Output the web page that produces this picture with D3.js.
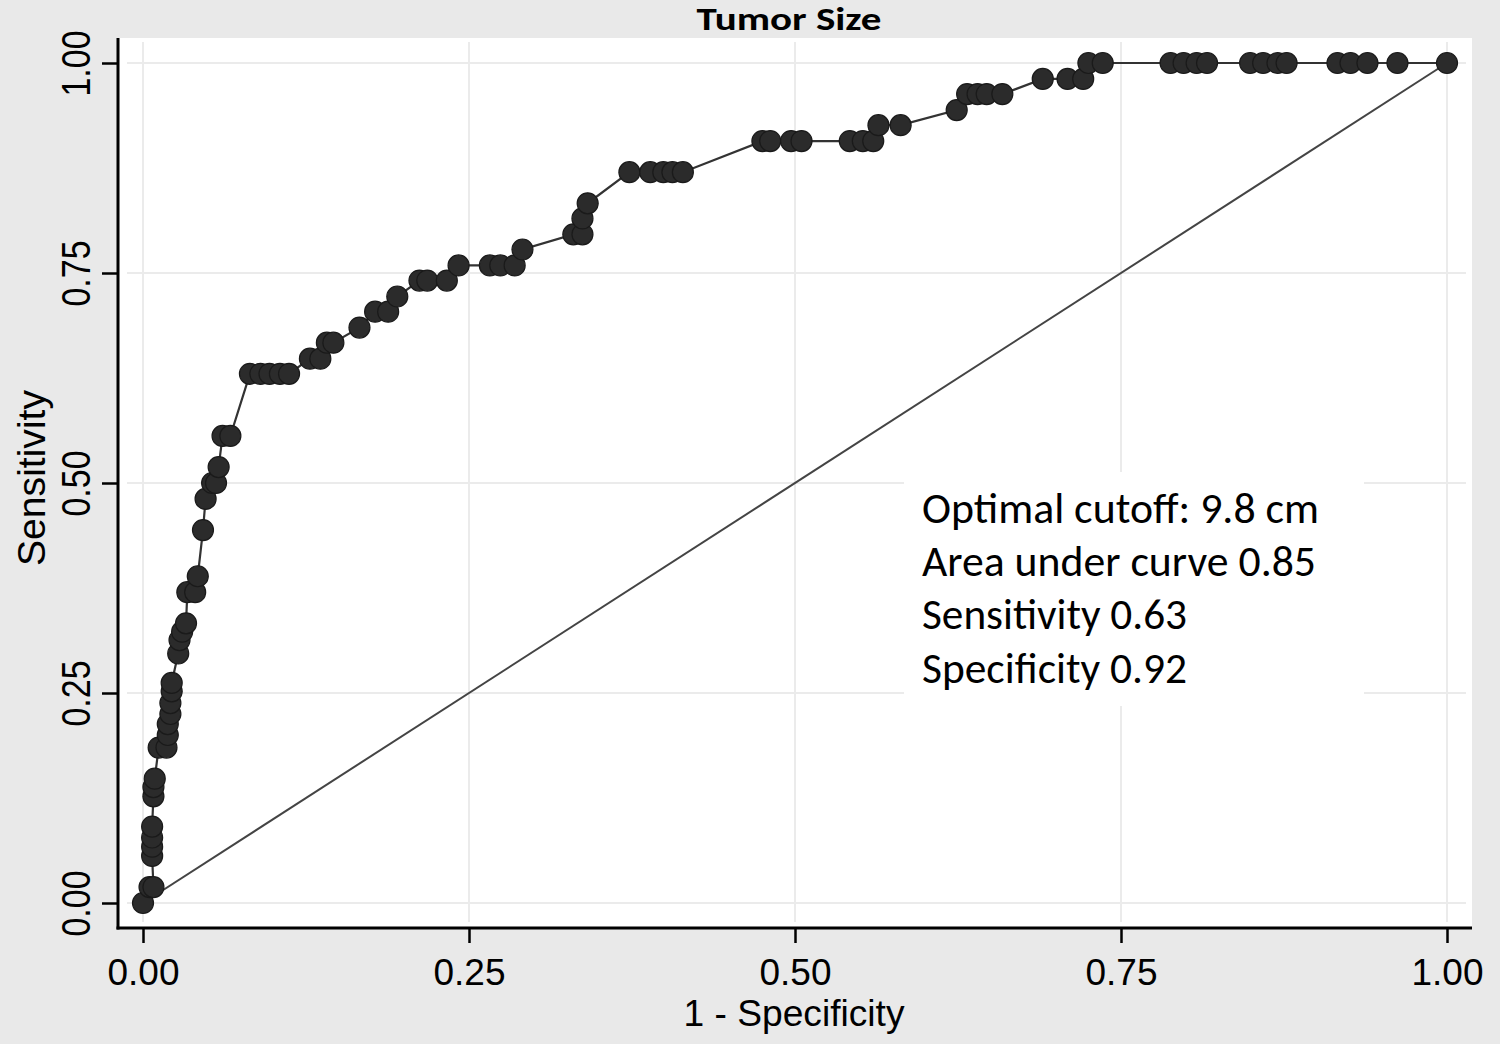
<!DOCTYPE html>
<html>
<head>
<meta charset="utf-8">
<script src="https://cdn.jsdelivr.net/npm/d3@7"></script>
<style>
  html, body { margin: 0; padding: 0; background: #e9e9e9; }
  svg { display: block; }
</style>
</head>
<body>
<svg id="chart" width="1500" height="1044"></svg>
<script>
// ---- data ----
const chartTitle = "Tumor Size";
const xAxisLabel = "1 - Specificity";
const yAxisLabel = "Sensitivity";
const tickValues = [0, 0.25, 0.5, 0.75, 1];
const fpr = [0,0.005,0.008,0.007,0.007,0.007,0.007,0.008,0.008,0.009,0.012,0.018,0.019,0.019,0.021,0.021,0.022,0.022,0.027,0.028,0.030,0.033,0.034,0.040,0.042,0.046,0.048,0.053,0.056,0.058,0.061,0.067,0.082,0.090,0.097,0.105,0.112,0.128,0.136,0.141,0.146,0.166,0.178,0.188,0.195,0.212,0.218,0.233,0.242,0.266,0.274,0.285,0.291,0.330,0.337,0.337,0.341,0.373,0.389,0.399,0.406,0.414,0.475,0.481,0.497,0.505,0.542,0.552,0.560,0.564,0.581,0.624,0.632,0.640,0.647,0.659,0.690,0.709,0.721,0.725,0.736,0.788,0.798,0.808,0.816,0.849,0.859,0.870,0.877,0.916,0.926,0.939,0.962,1];
const sensitivity = [0,0.019,0.019,0.056,0.067,0.078,0.091,0.127,0.138,0.148,0.185,0.185,0.200,0.213,0.225,0.238,0.252,0.262,0.297,0.313,0.323,0.333,0.370,0.370,0.389,0.444,0.481,0.500,0.500,0.519,0.556,0.556,0.630,0.630,0.630,0.630,0.630,0.648,0.648,0.667,0.667,0.685,0.704,0.704,0.722,0.741,0.741,0.741,0.759,0.759,0.759,0.759,0.778,0.796,0.796,0.815,0.833,0.870,0.870,0.870,0.870,0.870,0.907,0.907,0.907,0.907,0.907,0.907,0.907,0.926,0.926,0.944,0.963,0.963,0.963,0.963,0.981,0.981,0.981,1,1,1,1,1,1,1,1,1,1,1,1,1,1,1];
const referenceLine = [[0,0],[1,1]];
const annotationLines = ["Optimal cutoff: 9.8 cm", "Area under curve 0.85", "Sensitivity 0.63", "Specificity 0.92"];
const annotationWidths = [397, 394, 265, 265];

// ---- layout ----
const svg = d3.select("#chart");
const W = 1500, H = 1044;
const plot = {left: 118, top: 38, right: 1472, bottom: 928};
const x = d3.scaleLinear().domain([0, 1]).range([143, 1447]);
const y = d3.scaleLinear().domain([0, 1]).range([903, 63]);

svg.append("rect").attr("width", W).attr("height", H).attr("fill", "#e9e9e9");
svg.append("rect")
  .attr("x", plot.left).attr("y", plot.top)
  .attr("width", plot.right - plot.left).attr("height", plot.bottom - plot.top)
  .attr("fill", "#ffffff");

// grid
const grid = svg.append("g");
grid.selectAll(".hg").data(tickValues).join("line")
  .attr("x1", plot.left + 9).attr("x2", plot.right - 6)
  .attr("y1", d => y(d)).attr("y2", d => y(d))
  .attr("stroke", "#ebebeb").attr("stroke-width", 2);
grid.selectAll(".vg").data(tickValues).join("line")
  .attr("y1", plot.top + 4).attr("y2", plot.bottom - 6)
  .attr("x1", d => x(d)).attr("x2", d => x(d))
  .attr("stroke", "#ebebeb").attr("stroke-width", 2);

// reference diagonal
const line = d3.line().x(d => x(d[0])).y(d => y(d[1]));
svg.append("path").datum(referenceLine)
  .attr("d", line).attr("fill", "none")
  .attr("stroke", "#444").attr("stroke-width", 2);

// annotation box (hides grid)
svg.append("rect")
  .attr("x", 904).attr("y", 472).attr("width", 460).attr("height", 234)
  .attr("fill", "#ffffff");

// ROC curve
const pts = fpr.map((f, i) => [f, sensitivity[i]]);
svg.append("path").datum(pts)
  .attr("d", line).attr("fill", "none")
  .attr("stroke", "#333").attr("stroke-width", 2.2);
svg.append("g").selectAll("circle").data(pts).join("circle")
  .attr("cx", d => x(d[0])).attr("cy", d => y(d[1]))
  .attr("r", 10.5)
  .attr("fill", "#2b2b2b").attr("stroke", "#1a1a1a").attr("stroke-width", 1.2);

// axes
const fmt = d3.format(".2f");
const gx = svg.append("g").attr("transform", `translate(0,${plot.bottom})`)
  .call(d3.axisBottom(x).tickValues(tickValues).tickFormat(fmt).tickSize(15).tickSizeOuter(0));
gx.select(".domain").remove();
gx.selectAll(".tick line").attr("stroke", "#000").attr("stroke-width", 2.5);
gx.selectAll(".tick text")
  .attr("y", 57).attr("dy", 0)
  .attr("fill", "#000")
  .attr("textLength", 72).attr("lengthAdjust", "spacingAndGlyphs")
  .style("font-family", "'Liberation Sans', Arial, sans-serif")
  .style("font-size", "37px");

const gy = svg.append("g").attr("transform", `translate(${plot.left},0)`)
  .call(d3.axisLeft(y).tickValues(tickValues).tickFormat(fmt).tickSize(16).tickSizeOuter(0));
gy.select(".domain").remove();
gy.selectAll(".tick line").attr("stroke", "#000").attr("stroke-width", 2.5);
gy.selectAll(".tick text")
  .attr("x", 0).attr("y", -28).attr("dy", 0)
  .attr("transform", "rotate(-90)")
  .attr("text-anchor", "middle")
  .attr("fill", "#000")
  .attr("textLength", 66).attr("lengthAdjust", "spacingAndGlyphs")
  .style("font-family", "'Liberation Sans', Arial, sans-serif")
  .style("font-size", "40px");

// axis lines
svg.append("line").attr("x1", plot.left).attr("x2", plot.left)
  .attr("y1", plot.top).attr("y2", plot.bottom + 1.5)
  .attr("stroke", "#000").attr("stroke-width", 3);
svg.append("line").attr("x1", plot.left - 1.5).attr("x2", plot.right)
  .attr("y1", plot.bottom).attr("y2", plot.bottom)
  .attr("stroke", "#000").attr("stroke-width", 3);

// axis titles
svg.append("text").text(xAxisLabel)
  .attr("x", 794).attr("y", 1026).attr("text-anchor", "middle")
  .attr("fill", "#000")
  .attr("textLength", 221).attr("lengthAdjust", "spacingAndGlyphs")
  .style("font-family", "'Liberation Sans', Arial, sans-serif")
  .style("font-size", "36px");
svg.append("text").text(yAxisLabel)
  .attr("transform", "translate(45,478) rotate(-90)")
  .attr("text-anchor", "middle")
  .attr("fill", "#000")
  .attr("textLength", 176).attr("lengthAdjust", "spacingAndGlyphs")
  .style("font-family", "'Liberation Sans', Arial, sans-serif")
  .style("font-size", "38px");

// title
svg.append("text").text(chartTitle)
  .attr("x", 789).attr("y", 30).attr("text-anchor", "middle")
  .attr("fill", "#000").attr("font-weight", "bold")
  .attr("textLength", 185).attr("lengthAdjust", "spacingAndGlyphs")
  .style("font-family", "Carlito, Lato, 'Open Sans', sans-serif")
  .style("font-size", "32px");

// annotation text
svg.append("g").selectAll("text").data(annotationLines).join("text")
  .text(d => d)
  .attr("x", 922)
  .attr("y", (d, i) => 523 + i * 53.2)
  .attr("fill", "#000")
  .attr("textLength", (d, i) => annotationWidths[i])
  .attr("lengthAdjust", "spacingAndGlyphs")
  .style("font-family", "Carlito, Lato, 'Open Sans', sans-serif")
  .style("font-size", "43px");
</script>
</body>
</html>
